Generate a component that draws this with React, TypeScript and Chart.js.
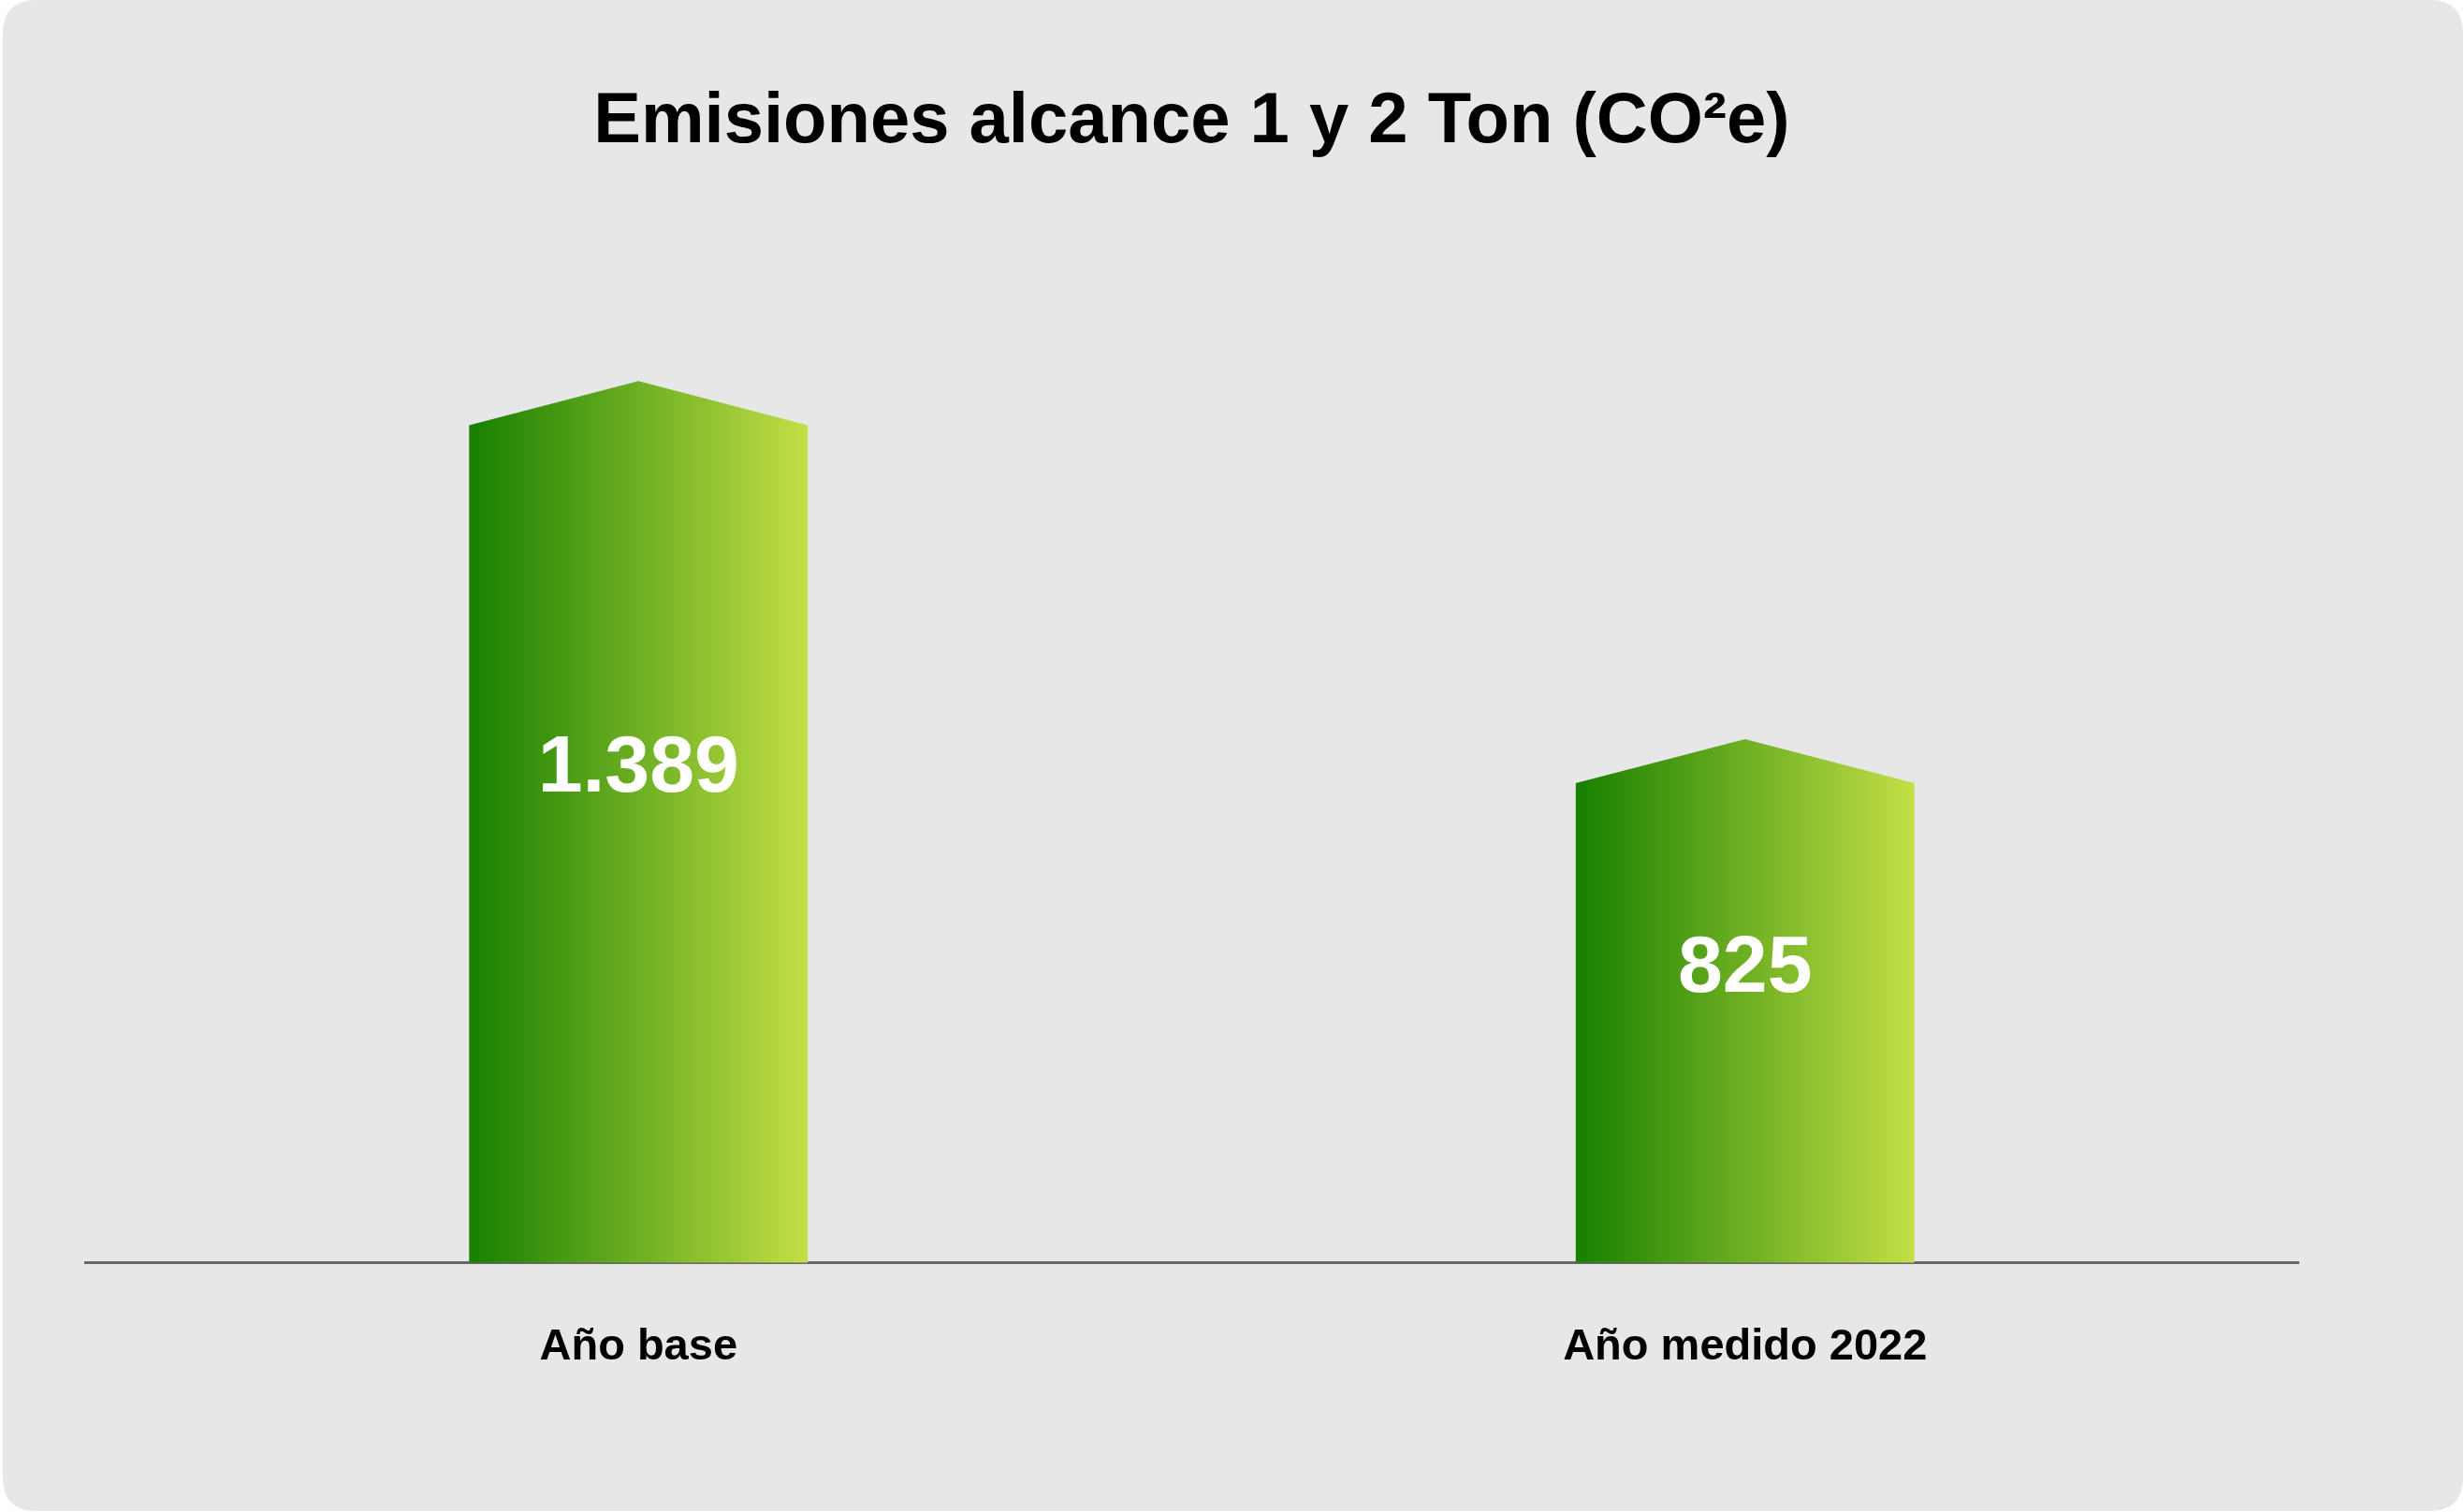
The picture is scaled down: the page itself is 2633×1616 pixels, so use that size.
import React, { useEffect, useRef } from "react";
import { Chart, registerables } from "chart.js";

Chart.register(...registerables);

const categories = ["Año base", "Año medido 2022"];
const values = [1389, 825];
const valueLabels = ["1.389", "825"];
const titleText = "Emisiones alcance 1 y 2 Ton (CO²e)";

const FONT = "'Liberation Sans', Arial, Helvetica, sans-serif";

const cardPlugin = {
  id: "cardBg",
  beforeDraw(chart: any) {
    const ctx = chart.ctx;
    const w = chart.width;
    const h = chart.height;
    ctx.save();
    ctx.fillStyle = "#ffffff";
    ctx.fillRect(0, 0, w, h);
    const x = 3, y = 0, cw = w - 4, ch = h - 1, r = 36;
    ctx.beginPath();
    ctx.moveTo(x + r, y);
    ctx.lineTo(x + cw - r, y);
    ctx.quadraticCurveTo(x + cw, y, x + cw, y + r);
    ctx.lineTo(x + cw, y + ch - r);
    ctx.quadraticCurveTo(x + cw, y + ch, x + cw - r, y + ch);
    ctx.lineTo(x + r, y + ch);
    ctx.quadraticCurveTo(x, y + ch, x, y + ch - r);
    ctx.lineTo(x, y + r);
    ctx.quadraticCurveTo(x, y, x + r, y);
    ctx.closePath();
    ctx.fillStyle = "#e7e7e7";
    ctx.fill();
    ctx.restore();
  },
};

const arrowBarsPlugin = {
  id: "arrowBars",
  afterDatasetsDraw(chart: any) {
    const ctx = chart.ctx;
    const meta = chart.getDatasetMeta(0);
    meta.data.forEach((el: any, i: number) => {
      const { x, y, base, width } = el.getProps(["x", "y", "base", "width"], true);
      const left = x - width / 2;
      const right = x + width / 2;
      const peak = width * 0.13;
      const grad = ctx.createLinearGradient(left, 0, right, 0);
      grad.addColorStop(0, "#187f00");
      grad.addColorStop(1, "#c3df46");
      ctx.save();
      ctx.beginPath();
      ctx.moveTo(left, base);
      ctx.lineTo(left, y + peak);
      ctx.lineTo(x, y);
      ctx.lineTo(right, y + peak);
      ctx.lineTo(right, base);
      ctx.closePath();
      ctx.fillStyle = grad;
      ctx.fill();
      ctx.fillStyle = "#ffffff";
      ctx.font = `bold 86px ${FONT}`;
      ctx.textAlign = "center";
      ctx.textBaseline = "middle";
      ctx.fillText(valueLabels[i], x, y + 0.44 * (base - y));
      ctx.restore();
    });
  },
};

export default function App() {
  const ref = useRef<HTMLCanvasElement>(null);
  useEffect(() => {
    document.body.style.margin = "0";
    const chart = new Chart(ref.current as HTMLCanvasElement, {
      type: "bar",
      data: {
        labels: categories,
        datasets: [
          {
            data: values,
            backgroundColor: "rgba(0,0,0,0)",
            borderWidth: 0,
            categoryPercentage: 1,
            barPercentage: 0.306,
          },
        ],
      },
      options: {
        responsive: false,
        animation: false,
        devicePixelRatio: 1,
        layout: { padding: { left: 91, right: 177, top: 0, bottom: 86 } },
        plugins: {
          legend: { display: false },
          tooltip: { enabled: false },
          title: {
            display: true,
            text: titleText,
            color: "#000000",
            font: { family: FONT, size: 76, weight: "bold" },
            padding: { top: 85, bottom: 88 },
          },
        },
        scales: {
          x: {
            grid: { display: false, drawTicks: false },
            border: { display: true, color: "#666666", width: 3 },
            ticks: {
              color: "#000000",
              font: { family: FONT, size: 47, weight: "bold" },
              padding: 62,
            },
          },
          y: {
            display: false,
            min: 0,
            max: 1600,
          },
        },
      },
      plugins: [cardPlugin, arrowBarsPlugin],
    });
    return () => chart.destroy();
  }, []);
  return (
    <div style={{ position: "fixed", left: 0, top: 0, width: 2633, height: 1616 }}>
      <canvas ref={ref} width={2633} height={1616} style={{ display: "block" }} />
    </div>
  );
}
